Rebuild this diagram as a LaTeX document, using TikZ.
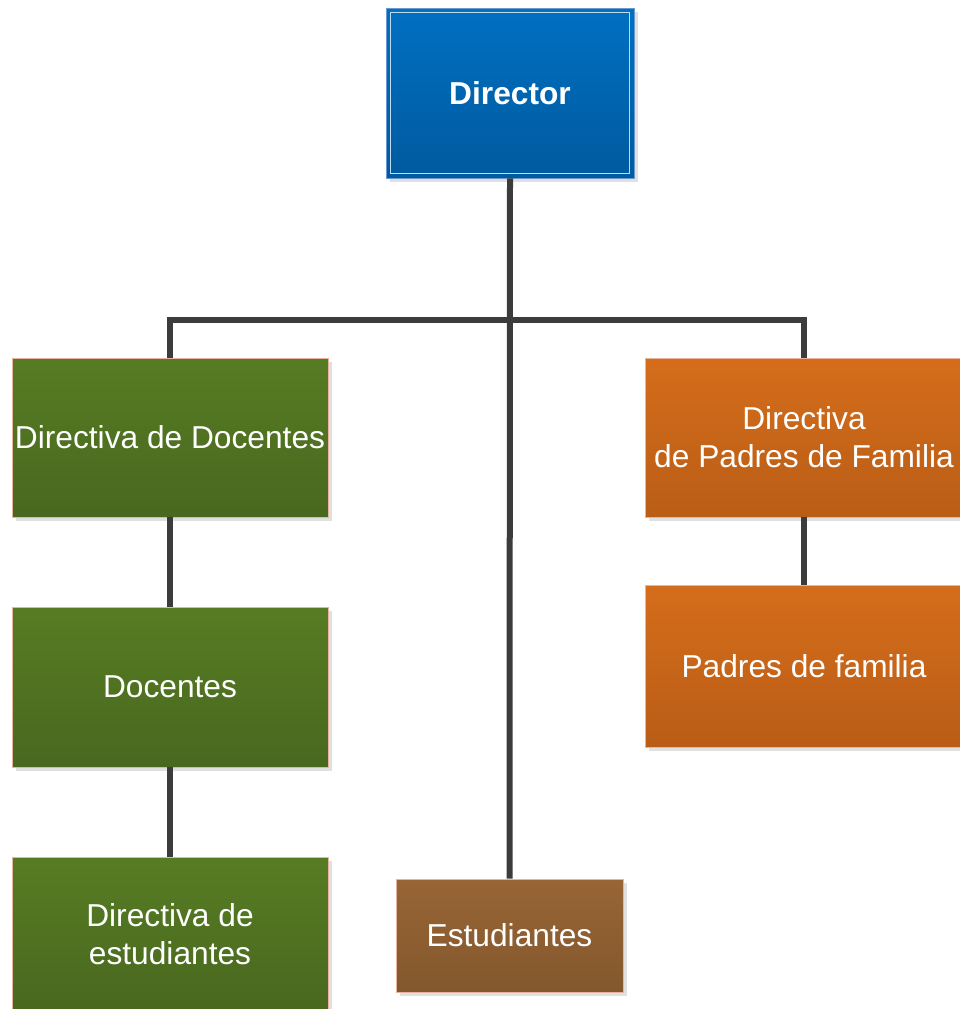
\documentclass[tikz,border=0pt]{standalone}
\usepackage{fontspec}
\setmainfont{Liberation Sans}
\usetikzlibrary{shadows}
\definecolor{conncol}{HTML}{3C3C3C}
\definecolor{bluetop}{HTML}{0070C1}
\definecolor{bluebot}{HTML}{005A9F}
\definecolor{greentop}{HTML}{567C23}
\definecolor{greenbot}{HTML}{49681F}
\definecolor{orangetop}{HTML}{D56D1B}
\definecolor{orangebot}{HTML}{B95D16}
\definecolor{browntop}{HTML}{986535}
\definecolor{brownbot}{HTML}{83582D}
\definecolor{edgepink}{HTML}{E8B4A0}
\definecolor{edgeblue}{HTML}{6A98D0}
\tikzset{
  x=1pt, y=-1pt,
  orgbox/.style={rectangle, draw=edgepink, line width=0.8pt, text=white,
    align=center, inner sep=0pt,
    font=\fontsize{31.7}{38}\selectfont,
    drop shadow={shadow xshift=4pt, shadow yshift=-4pt, fill=black!12, opacity=1}},
  bluebox/.style={orgbox, draw=edgeblue, top color=bluetop, bottom color=bluebot, font=\fontsize{31.7}{38}\selectfont\bfseries},
  greenbox/.style={orgbox, top color=greentop, bottom color=greenbot},
  orangebox/.style={orgbox, top color=orangetop, bottom color=orangebot},
  brownbox/.style={orgbox, top color=browntop, bottom color=brownbot},
  conn/.style={draw=conncol, line width=6pt, line cap=butt, line join=miter}
}
\begin{document}
\begin{tikzpicture}
\useasboundingbox (0,0) rectangle (960,1009);
\node[bluebox, minimum width=248pt, minimum height=170pt] (dir) at (510,93) {Director};
\draw[white!75!bluetop, line width=0.8pt] ([shift={(5,5)}]dir.north west) rectangle ([shift={(-5,-5)}]dir.south east);
\node[greenbox, minimum width=316pt, minimum height=159pt] (dd) at (170,437.5) {Directiva de Docentes};
\node[greenbox, minimum width=316pt, minimum height=160pt] (doc) at (170,687) {Docentes};
\node[greenbox, minimum width=316pt, minimum height=155pt] (de) at (170,934.5) {Directiva de\\estudiantes};
\node[brownbox, minimum width=227pt, minimum height=113pt] (est) at (509.5,935.5) {Estudiantes};
\node[orangebox, minimum width=318pt, minimum height=159pt] (dp) at (804,437.5) {Directiva\\de Padres de Familia};
\node[orangebox, minimum width=318pt, minimum height=162pt] (pf) at (804,666) {Padres de familia};
\coordinate (j) at (510,320);
\draw[conn] (dir.south) -- (est.north);
\draw[conn] (dd.north) |- (j) -| (dp.north);
\draw[conn] (dd.south) -- (doc.north);
\draw[conn] (doc.south) -- (de.north);
\draw[conn] (dp.south) -- (pf.north);
\end{tikzpicture}
\end{document}
